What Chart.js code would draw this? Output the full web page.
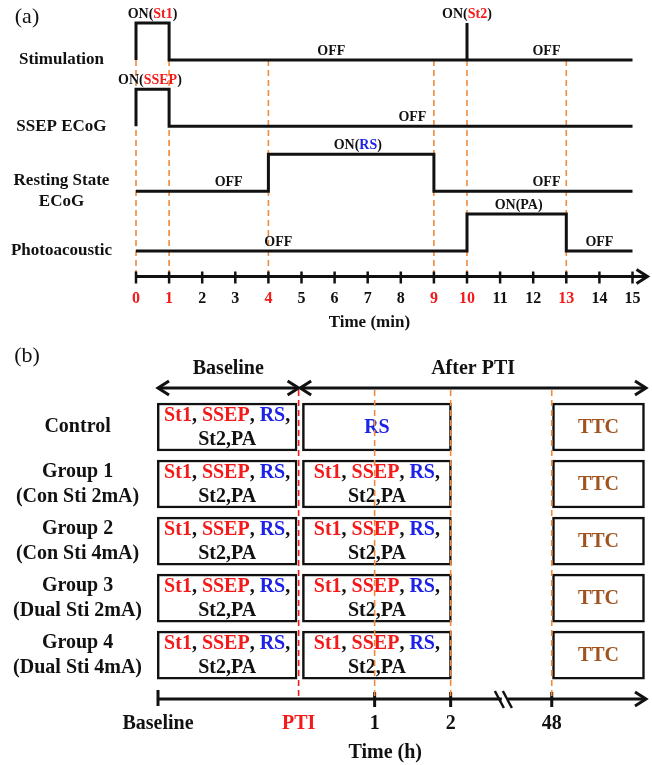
<!DOCTYPE html>
<html>
<head>
<meta charset="utf-8">
<script src="https://cdn.jsdelivr.net/npm/chart.js@4.4.1/dist/chart.umd.min.js"></script>
<style>
  html, body { margin: 0; padding: 0; background: #fff; }
  canvas { display: block; }
</style>
</head>
<body>
<canvas id="timing" width="652" height="335"></canvas>
<canvas id="groups" width="652" height="430"></canvas>
<script>
const RED = "#f41a1a";
const BLUE = "#1c22e6";
const BROWN = "#a0521f";
const ORANGE = "#f08a3c";
const INK = "#111";
const SERIF = '"Liberation Serif", "Times New Roman", serif';

// (a) one recording session, in minutes
const minutes = [0, 1, 2, 3, 4, 5, 6, 7, 8, 9, 10, 11, 12, 13, 14, 15];
const markedMinutes = [0, 1, 4, 9, 10, 13];
const laneNames = ["Stimulation", "SSEP ECoG", ["Resting State", "ECoG"], "Photoacoustic"];
const laneLevels = [3, 1.96, 0.94, 0];
const pulseHeight = 0.58;

const stimTimes = [0, 0, 1, 1, 10, 10, 10, 15];
const stimOn = [0, 1, 1, 0, 0, 1, 0, 0];
const ssepTimes = [0, 0, 1, 1, 15];
const ssepOn = [0, 1, 1, 0, 0];
const restTimes = [0, 4, 4, 9, 9, 15];
const restOn = [0, 0, 1, 1, 0, 0];
const paTimes = [0, 10, 10, 13, 13, 15];
const paOn = [0, 0, 1, 1, 0, 0];

// state labels: lane, minute, on/off level, coloured text parts
const stateNotes = [
  { lane: 0, at: 0.5, on: 1, parts: [["ON(", INK], ["St1", RED], [")", INK]] },
  { lane: 0, at: 10, on: 1, parts: [["ON(", INK], ["St2", RED], [")", INK]] },
  { lane: 0, at: 5.9, on: 0, parts: [["OFF", INK]] },
  { lane: 0, at: 12.4, on: 0, parts: [["OFF", INK]] },
  { lane: 1, at: 0.42, on: 1, parts: [["ON(", INK], ["SSEP", RED], [")", INK]] },
  { lane: 1, at: 8.35, on: 0, parts: [["OFF", INK]] },
  { lane: 2, at: 6.7, on: 1, parts: [["ON(", INK], ["RS", BLUE], [")", INK]] },
  { lane: 2, at: 2.8, on: 0, parts: [["OFF", INK]] },
  { lane: 2, at: 12.4, on: 0, parts: [["OFF", INK]] },
  { lane: 3, at: 11.56, on: 1, parts: [["ON(PA)", INK]] },
  { lane: 3, at: 4.3, on: 0, parts: [["OFF", INK]] },
  { lane: 3, at: 14.0, on: 0, parts: [["OFF", INK]] },
];

// (b) groups on a broken time axis (slot units)
const groupNames = [
  "Control",
  ["Group 1", "(Con Sti 2mA)"],
  ["Group 2", "(Con Sti 4mA)"],
  ["Group 3", "(Dual Sti 2mA)"],
  ["Group 4", "(Dual Sti 4mA)"],
];
const slotNames = ["Baseline", "PTI", "1", "2", "48"];
const slotPos = [0, 1.85, 2.85, 3.85, 5.18];
const breakAt = 4.55;
const axisEnd = 6.42;
const baselineBox = [-0.01, 1.83];
const afterBox = [1.9, 3.86];
const ttcBox = [5.19, 6.4];

const fullProtocol = [
  [["St1", RED], [", ", INK], ["SSEP", RED], [", ", INK], ["RS", BLUE], [",", INK]],
  [["St2,PA", INK]],
];
const rsOnly = [[["RS", BLUE]]];
const ttcOnly = [[["TTC", BROWN]]];
const baselineNotes = [fullProtocol, fullProtocol, fullProtocol, fullProtocol, fullProtocol];
const afterNotes = [rsOnly, fullProtocol, fullProtocol, fullProtocol, fullProtocol];
const ttcNotes = [ttcOnly, ttcOnly, ttcOnly, ttcOnly, ttcOnly];

Chart.defaults.font.family = SERIF;
Chart.defaults.font.weight = "bold";
Chart.defaults.color = INK;

function richText(ctx, parts, cx, cy) {
  const w = parts.reduce((s, p) => s + ctx.measureText(p[0]).width, 0);
  let px = cx - w / 2;
  ctx.textAlign = "left";
  parts.forEach(([t, c]) => {
    ctx.fillStyle = c;
    ctx.fillText(t, px, cy);
    px += ctx.measureText(t).width;
  });
}

function chevron(ctx, tipX, tipY, dir) {
  ctx.beginPath();
  ctx.moveTo(tipX - dir * 11, tipY - 7);
  ctx.lineTo(tipX, tipY);
  ctx.lineTo(tipX - dir * 11, tipY + 7);
  ctx.stroke();
}

function lane(times, states, level) {
  return times.map((t, i) => ({ x: t, y: level + states[i] * pulseHeight }));
}

// keep the row labels from pushing the plot area around
function labelAxisFit(width) {
  return (s) => {
    s.width = width;
    s.paddingTop = 0;
    s.paddingBottom = 0;
  };
}

const laneStyle = {
  borderColor: INK,
  borderWidth: 3,
  pointRadius: 0,
  tension: 0,
  fill: false,
  clip: false,
  borderJoinStyle: "miter",
};

const timingDecor = {
  id: "timingDecor",
  beforeDatasetsDraw(chart) {
    const { ctx, scales: { x, y } } = chart;
    const top = y.getPixelForValue(laneLevels[0]);
    const bottom = chart.chartArea.bottom;
    ctx.save();
    ctx.strokeStyle = ORANGE;
    ctx.lineWidth = 1.6;
    ctx.setLineDash([6, 4]);
    markedMinutes.forEach((m) => {
      const px = x.getPixelForValue(m);
      ctx.beginPath();
      ctx.moveTo(px, top);
      ctx.lineTo(px, bottom);
      ctx.stroke();
    });
    ctx.restore();
  },
  afterDraw(chart) {
    const { ctx, scales: { x, y } } = chart;
    const ay = chart.chartArea.bottom;
    ctx.save();
    ctx.strokeStyle = INK;
    ctx.lineWidth = 3;
    ctx.beginPath();
    ctx.moveTo(x.getPixelForValue(0) - 1, ay);
    ctx.lineTo(x.getPixelForValue(15) + 14, ay);
    ctx.stroke();
    chevron(ctx, x.getPixelForValue(15) + 15, ay, 1);
    ctx.lineWidth = 2.5;
    minutes.forEach((m) => {
      const px = x.getPixelForValue(m);
      ctx.beginPath();
      ctx.moveTo(px, ay - 5);
      ctx.lineTo(px, ay + 7);
      ctx.stroke();
    });

    ctx.font = "bold 14px " + SERIF;
    ctx.textBaseline = "alphabetic";
    stateNotes.forEach((n) => {
      const py = y.getPixelForValue(laneLevels[n.lane] + n.on * pulseHeight);
      richText(ctx, n.parts, x.getPixelForValue(n.at), py - 5);
    });

    ctx.font = "bold 17px " + SERIF;
    ctx.textBaseline = "middle";
    richText(ctx, [["Time (min)", INK]], x.getPixelForValue(7.05), ay + 46);

    ctx.font = "22px " + SERIF;
    richText(ctx, [["(a)", INK]], 27, 17);
    ctx.restore();
  },
};

new Chart(document.getElementById("timing"), {
  type: "line",
  data: {
    datasets: [
      { ...laneStyle, data: lane(stimTimes, stimOn, laneLevels[0]) },
      { ...laneStyle, data: lane(ssepTimes, ssepOn, laneLevels[1]) },
      { ...laneStyle, data: lane(restTimes, restOn, laneLevels[2]) },
      { ...laneStyle, data: lane(paTimes, paOn, laneLevels[3]) },
    ],
  },
  options: {
    responsive: false,
    animation: false,
    devicePixelRatio: 1,
    events: [],
    layout: { padding: { top: 9, right: 19.5, left: 0, bottom: 0 } },
    plugins: { legend: { display: false }, tooltip: { enabled: false }, colors: { enabled: false } },
    scales: {
      x: {
        type: "linear",
        min: 0,
        max: 15,
        afterBuildTicks: (s) => { s.ticks = minutes.map((v) => ({ value: v })); },
        afterFit: (s) => { s.height = 58.5; },
        grid: { display: false },
        border: { display: false },
        ticks: {
          autoSkip: false,
          maxRotation: 0,
          padding: 5,
          font: { size: 16, weight: "bold" },
          color: (c) => (markedMinutes.includes(c.tick.value) ? RED : INK),
        },
      },
      y: {
        type: "linear",
        min: -0.4,
        max: 3.8,
        afterBuildTicks: (s) => { s.ticks = laneLevels.map((v) => ({ value: v })); },
        afterFit: labelAxisFit(136),
        grid: { display: false },
        border: { display: false },
        ticks: {
          autoSkip: false,
          crossAlign: "center",
          padding: 16,
          font: { size: 17, weight: "bold", lineHeight: 1.25 },
          callback: (v, i) => laneNames[i],
        },
      },
    },
  },
  plugins: [timingDecor],
});

const groupDecor = {
  id: "groupDecor",
  afterDatasetsDraw(chart) {
    const { ctx, scales: { x } } = chart;
    const { top, bottom } = chart.chartArea;
    ctx.save();
    ctx.font = "bold 20px " + SERIF;
    ctx.textBaseline = "middle";
    chart.data.datasets.forEach((ds, di) => {
      chart.getDatasetMeta(di).data.forEach((bar, i) => {
        const lines = ds.notes[i];
        const cx = (bar.x + bar.base) / 2;
        lines.forEach((parts, li) => {
          richText(ctx, parts, cx, bar.y + 1 + (li - (lines.length - 1) / 2) * 24);
        });
      });
    });

    // header arrows
    ctx.strokeStyle = INK;
    ctx.lineWidth = 3;
    const spans = [[0, slotPos[1], "Baseline"], [slotPos[1] + 0.02, axisEnd, "After PTI"]];
    spans.forEach(([a, b, label]) => {
      const xa = x.getPixelForValue(a);
      const xb = x.getPixelForValue(b);
      ctx.beginPath();
      ctx.moveTo(xa + 1, top);
      ctx.lineTo(xb - 1, top);
      ctx.stroke();
      chevron(ctx, xa, top, -1);
      chevron(ctx, xb, top, 1);
      richText(ctx, [[label, INK]], (xa + xb) / 2, top - 19);
    });

    // bottom time axis
    const x0 = x.getPixelForValue(0);
    const xe = x.getPixelForValue(axisEnd);
    ctx.beginPath();
    ctx.moveTo(x0, bottom);
    ctx.lineTo(xe - 1, bottom);
    ctx.stroke();
    chevron(ctx, xe, bottom, 1);
    ctx.beginPath();
    ctx.moveTo(x0, bottom - 9);
    ctx.lineTo(x0, bottom + 7);
    ctx.stroke();
    slotPos.slice(2).forEach((v) => {
      const px = x.getPixelForValue(v);
      ctx.beginPath();
      ctx.moveTo(px, bottom - 7);
      ctx.lineTo(px, bottom + 8);
      ctx.stroke();
    });
    const bx = x.getPixelForValue(breakAt);
    ctx.fillStyle = "#fff";
    ctx.fillRect(bx - 2, bottom - 3, 6, 6);
    ctx.lineWidth = 2.5;
    [-4, 4].forEach((d) => {
      ctx.beginPath();
      ctx.moveTo(bx + d - 5, bottom - 8);
      ctx.lineTo(bx + d + 4, bottom + 9);
      ctx.stroke();
    });

    // dashed time markers
    ctx.lineWidth = 1.6;
    ctx.setLineDash([6, 4]);
    slotPos.slice(1).forEach((v, i) => {
      const px = x.getPixelForValue(v);
      ctx.strokeStyle = i === 0 ? RED : ORANGE;
      ctx.beginPath();
      ctx.moveTo(px, top + 2);
      ctx.lineTo(px, bottom);
      ctx.stroke();
    });
    ctx.setLineDash([]);

    ctx.textBaseline = "middle";
    ctx.font = "bold 20px " + SERIF;
    richText(ctx, [["Time (h)", INK]], x.getPixelForValue(2.99), bottom + 54);
    ctx.font = "22px " + SERIF;
    richText(ctx, [["(b)", INK]], 27, 21);
    ctx.restore();
  },
};

const boxStyle = {
  backgroundColor: "#fff",
  borderColor: INK,
  borderWidth: 2.5,
  borderSkipped: false,
  barThickness: 48,
  grouped: false,
  clip: false,
};

new Chart(document.getElementById("groups"), {
  type: "bar",
  data: {
    datasets: [
      { ...boxStyle, data: groupNames.map((g, i) => ({ x: baselineBox, y: i })), notes: baselineNotes },
      { ...boxStyle, data: groupNames.map((g, i) => ({ x: afterBox, y: i })), notes: afterNotes },
      { ...boxStyle, data: groupNames.map((g, i) => ({ x: ttcBox, y: i })), notes: ttcNotes },
    ],
  },
  options: {
    indexAxis: "y",
    responsive: false,
    animation: false,
    devicePixelRatio: 1,
    events: [],
    layout: { padding: { top: 53, right: 6, left: 0, bottom: 0 } },
    plugins: { legend: { display: false }, tooltip: { enabled: false }, colors: { enabled: false } },
    scales: {
      x: {
        type: "linear",
        min: 0,
        max: axisEnd,
        afterBuildTicks: (s) => { s.ticks = slotPos.map((v) => ({ value: v })); },
        afterFit: (s) => { s.height = 66; },
        grid: { display: false },
        border: { display: false },
        ticks: {
          autoSkip: false,
          maxRotation: 0,
          padding: 5,
          font: { size: 20, weight: "bold" },
          color: (c) => (slotNames[c.index] === "PTI" ? RED : INK),
          callback: (v, i) => slotNames[i],
        },
      },
      y: {
        type: "linear",
        reverse: true,
        offset: false,
        min: -0.684,
        max: 4.77,
        afterBuildTicks: (s) => { s.ticks = groupNames.map((g, i) => ({ value: i })); },
        afterFit: labelAxisFit(158),
        grid: { display: false },
        border: { display: false },
        ticks: {
          autoSkip: false,
          crossAlign: "center",
          padding: 8,
          font: { size: 20, weight: "bold", lineHeight: 1.25 },
          callback: (v, i) => groupNames[i],
        },
      },
    },
  },
  plugins: [groupDecor],
});
</script>
</body>
</html>
